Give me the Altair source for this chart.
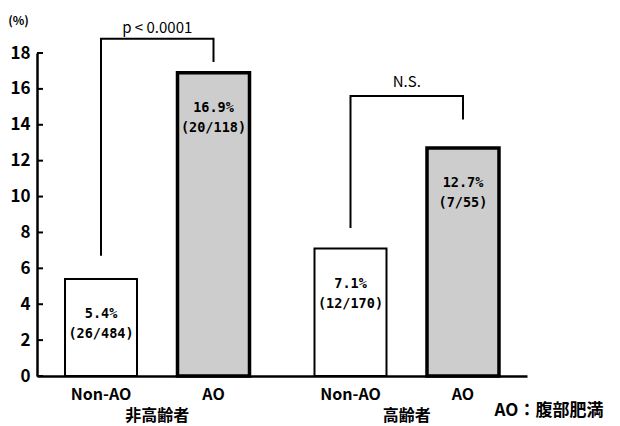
import altair as alt
import pandas as pd

# Incidence by age group and abdominal obesity
groups = ["非高齢者", "非高齢者", "高齢者", "高齢者"]
cats = ["Non-AO", "AO", "Non-AO", "AO"]
rates = [5.4, 16.9, 7.1, 12.7]
cases = [26, 20, 12, 7]
totals = [484, 118, 170, 55]

# Significance brackets (path points in % units)
br_group = ["非高齢者"] * 4 + ["高齢者"] * 4
br_cat = ["Non-AO", "Non-AO", "AO", "AO"] * 2
br_y = [6.7, 18.8, 18.8, 17.5, 8.25, 15.6, 15.6, 14.3]
br_order = [0, 1, 2, 3] * 2

sig_group = ["非高齢者", "高齢者"]
sig_text = ["p < 0.0001", "N.S."]
sig_y = [19.4, 16.4]

tick_values = [0, 2, 4, 6, 8, 10, 12, 14, 16, 18]
group_order = ["非高齢者", "高齢者"]
cat_order = ["Non-AO", "AO"]

FONT = "Noto Sans CJK JP"
MONO = "DejaVu Sans Mono"

bars_df = pd.DataFrame({
    "group": groups,
    "cat": cats,
    "rate": rates,
    "label": [f"{r}%\n({c}/{t})" for r, c, t in zip(rates, cases, totals)],
})
br_df = pd.DataFrame({"group": br_group, "cat": br_cat, "y": br_y, "order": br_order})
sig_df = pd.DataFrame({"group": sig_group, "text": sig_text, "y": sig_y})
ticks_df = pd.DataFrame({"t": tick_values})

# Shared scales and axes, repeated identically in every layer
yscale = alt.Scale(domain=[0, 18], nice=False, zero=True)
xscale = alt.Scale(paddingInner=0.1, paddingOuter=0.032)
y_axis = alt.Axis(
    values=tick_values, ticks=False, grid=False, labelOverlap=False,
    labelFont=FONT, labelFontWeight="bold", labelFontSize=17,
    labelColor="black", labelPadding=7,
    domainColor="black", domainWidth=2.5,
    title="(%)", titleAngle=0, titleX=-19, titleY=-33,
    titleAlign="center", titleBaseline="middle",
    titleFont=FONT, titleFontSize=12, titleFontWeight="bold",
)
x_axis = alt.Axis(
    title=None, ticks=False, labelPadding=31, labelAngle=0,
    labelFont=FONT, labelFontWeight="bold", labelFontSize=16,
    labelColor="black", domainColor="black", domainWidth=2.5,
)


def xg():
    return alt.X("group:N", sort=group_order, scale=xscale, axis=x_axis, title=None)


def yv(field):
    return alt.Y(field, scale=yscale, axis=y_axis, title="(%)")


xoff = alt.XOffset(
    "cat:N", sort=cat_order,
    scale=alt.Scale(paddingInner=0.36, paddingOuter=0.178),
)

base = alt.Chart(bars_df)

bars = base.mark_bar(stroke="black").encode(
    x=xg(),
    xOffset=xoff,
    y=yv("rate:Q"),
    fill=alt.Fill("cat:N", scale=alt.Scale(domain=cat_order, range=["white", "#cdcdcd"]), legend=None),
    strokeWidth=alt.StrokeWidth("cat:N", scale=alt.Scale(domain=cat_order, range=[2, 3.5]), legend=None),
)

bar_text = base.mark_text(
    font=MONO, fontWeight="bold", fontSize=13.5, baseline="top", dy=28, lineHeight=20,
    lineBreak="\n", color="black",
).encode(x=xg(), xOffset=xoff, y=yv("rate:Q"), text="label:N")

cat_text = base.mark_text(
    font=FONT, fontWeight="bold", fontSize=16, baseline="middle", dy=19, color="black"
).encode(x=xg(), xOffset=xoff, y=alt.datum(0, scale=yscale, axis=y_axis, title="(%)"), text="cat:N")

brackets = alt.Chart(br_df).mark_line(color="black", strokeWidth=2).encode(
    x=xg(),
    xOffset=alt.XOffset("cat:N", sort=cat_order),
    y=yv("y:Q"),
    detail="group:N",
    order="order:Q",
)

sig = alt.Chart(sig_df).mark_text(font=FONT, fontSize=15, color="black", baseline="middle").encode(
    x=xg(),
    y=yv("y:Q"),
    text="text:N",
)

yticks = alt.Chart(ticks_df).mark_rule(color="black", strokeWidth=2).encode(
    y=yv("t:Q"), x=alt.value(0), x2=alt.value(6)
)

note = alt.Chart(pd.DataFrame({"t": ["AO：腹部肥満"]})).mark_text(
    font=FONT, fontWeight="bold", fontSize=17, color="black", baseline="middle", align="center"
).encode(x=alt.value(512), y=alt.value(358), text="t:N")

chart = alt.layer(bars, bar_text, cat_text, brackets, sig, yticks, note).properties(
    width=490, height=323,
    padding={"left": 37, "top": 53, "right": 93, "bottom": 50},
    autosize=alt.AutoSizeParams(type="none"),
    background="white",
).configure_view(stroke=None).configure_axisY(labelOverlap=False)

chart.save("out.html", embed_options={"renderer": "svg", "actions": False})
